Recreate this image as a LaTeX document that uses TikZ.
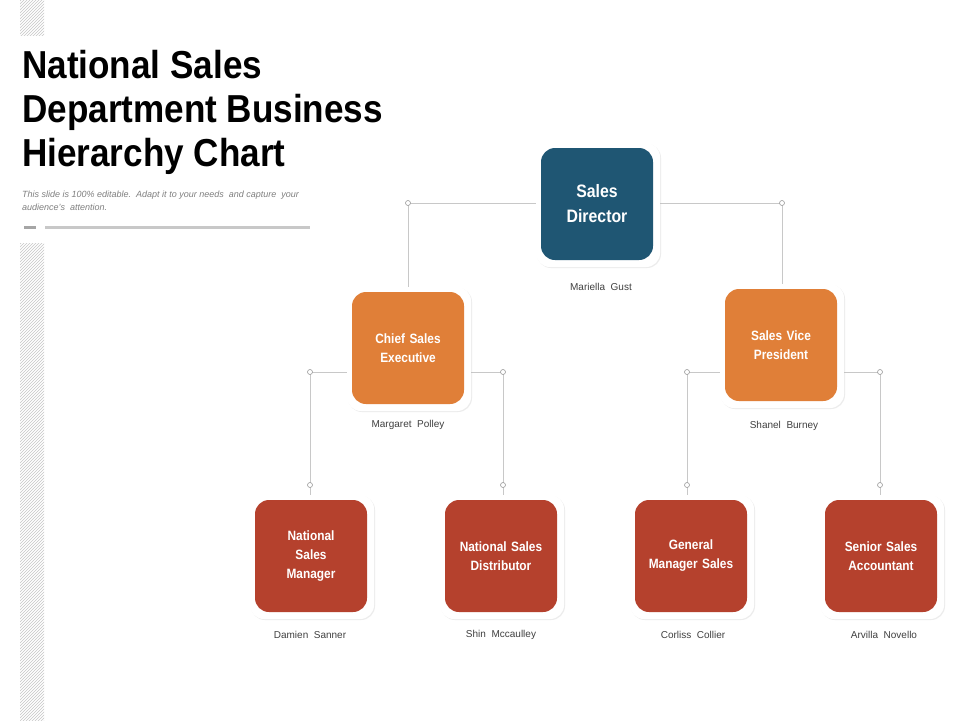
\documentclass[tikz,border=0pt]{standalone}
\usepackage{fontspec}
\setmainfont{Liberation Sans}
\newfontfamily\narrow[FakeStretch=0.9]{Liberation Sans}
\newfontfamily\cardfont[FakeStretch=0.88]{Liberation Sans}
\usetikzlibrary{patterns,shadows}
\definecolor{navy}{HTML}{1F5673}
\definecolor{orng}{HTML}{E07F38}
\definecolor{rust}{HTML}{B5412D}
\definecolor{lgray}{HTML}{C8C8C8}
\tikzset{
 halo/.style={fill=white,rounded corners=14pt,minimum size=124pt,drop shadow={shadow xshift=1pt,shadow yshift=-1pt,opacity=0.15}},
 card/.style={rounded corners=14pt,minimum size=112pt,text width=100pt,align=center,text=white,font=\cardfont\bfseries\fontsize{13.5}{19}\selectfont},
 nm/.style={font=\fontsize{10}{12}\selectfont,text=black!75},
 ln/.style={draw=lgray,line width=0.8pt},
 dot/.style={circle,draw=gray!80,fill=white,inner sep=0pt,minimum size=5pt,line width=0.6pt},
}
\begin{document}
\begin{tikzpicture}[x=1pt,y=-1pt]
\useasboundingbox (0,0) rectangle (960,720);
\fill[white] (0,0) rectangle (960,720);
\fill[pattern=north east lines,pattern color=gray!45] (20,0) rectangle (44,35);
\fill[pattern=north east lines,pattern color=gray!45] (20,243) rectangle (44,720);
\node[anchor=north west,align=left,inner sep=0pt,font=\narrow\bfseries\fontsize{39}{44}\selectfont] (title) at (22,50) {National Sales\\Department Business\\Hierarchy Chart};
\node[anchor=north west,align=left,inner sep=0pt,text=gray,font=\itshape\fontsize{9}{13}\selectfont] (sub) at (22,191) {This slide is 100\% editable.\ \ Adapt it to your needs\ \ and capture\ \ your\\audience's\ \ attention.};
\fill[gray!70] (24,225.5) rectangle (36,228.5);
\fill[lgray] (45,225.5) rectangle (310,228.5);
\coordinate (t1) at (408,203); \coordinate (t2) at (782,203);
\coordinate (a1) at (310,372); \coordinate (a2) at (503,372);
\coordinate (b1) at (687,372); \coordinate (b2) at (880,372);
\coordinate (a1d) at (310,485); \coordinate (a2d) at (503,485);
\coordinate (b1d) at (687,485); \coordinate (b2d) at (880,485);
\coordinate (t1d) at (408,292); \coordinate (t2d) at (782,289);
\coordinate (a1e) at (310,500); \coordinate (a2e) at (503,500);
\coordinate (b1e) at (687,500); \coordinate (b2e) at (880,500);
\draw[ln] (t1) -- (t2) (t1) -- (t1d) (t2) -- (t2d);
\draw[ln] (a1) -- (a2) (a1) -- (a1e) (a2) -- (a2e);
\draw[ln] (b1) -- (b2) (b1) -- (b1e) (b2) -- (b2e);
\foreach \c in {t1,t2,a1,a2,b1,b2,a1d,a2d,b1d,b2d} \node[dot] at (\c) {};
\foreach \x/\y in {597/204,408/348,781/345,311/556,501/556,691/556,881/556}
 \node[halo] at (\x+1,\y+1) {};
\node[card,fill=navy,font=\cardfont\bfseries\fontsize{18}{25}\selectfont] (sd) at (597,204) {Sales\\Director};
\node[card,fill=orng] (cse) at (408,348) {Chief Sales\\Executive};
\node[card,fill=orng] (svp) at (781,345) {Sales Vice\\President};
\node[card,fill=rust] (nsm) at (311,556) {National\\Sales\\Manager};
\node[card,fill=rust] (nsd) at (501,556) {National Sales\\Distributor};
\node[card,fill=rust] (gms) at (691,556) {General\\Manager Sales};
\node[card,fill=rust] (ssa) at (881,556) {Senior Sales\\Accountant};
\node[nm] (n1) at (601,287) {Mariella\ \ Gust};
\node[nm] (n2) at (408,425) {Margaret\ \ Polley};
\node[nm] (n3) at (784,426) {Shanel\ \ Burney};
\node[nm] (n4) at (310,635) {Damien\ \ Sanner};
\node[nm] (n5) at (501,635) {Shin\ \ Mccaulley};
\node[nm] (n6) at (693,635) {Corliss\ \ Collier};
\node[nm] (n7) at (884,635) {Arvilla\ \ Novello};
\end{tikzpicture}
\end{document}
